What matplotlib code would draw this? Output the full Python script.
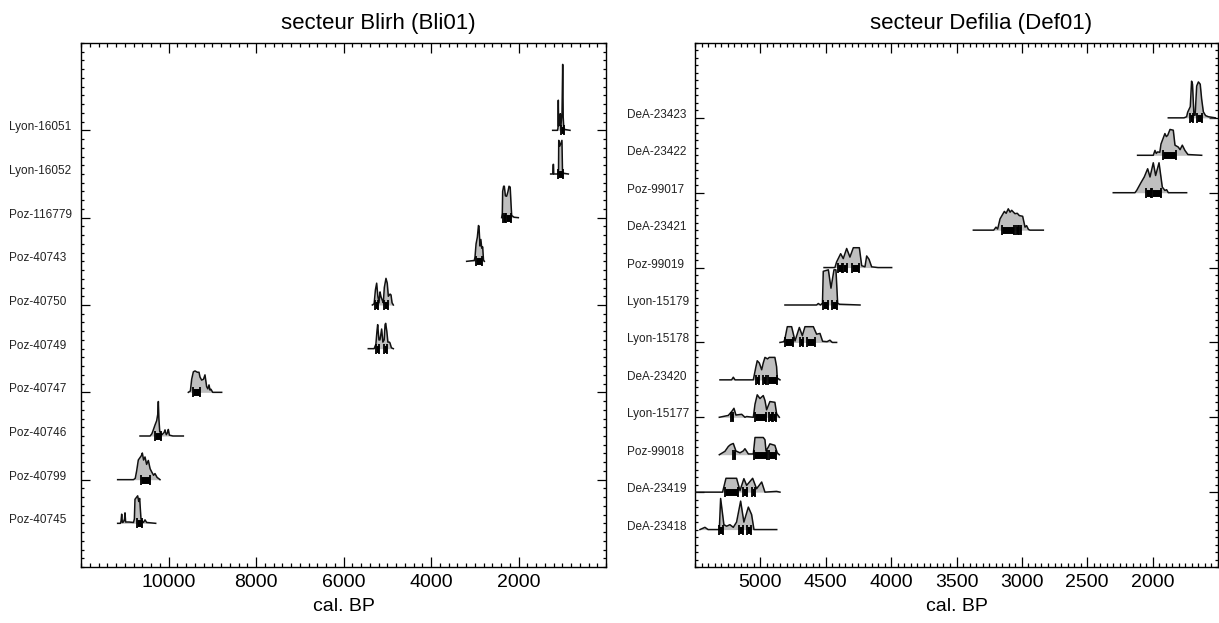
import matplotlib
matplotlib.use("Agg")
import matplotlib.pyplot as plt
import matplotlib.transforms as mtransforms
from matplotlib.ticker import MultipleLocator, FixedLocator, NullFormatter

plt.rcParams['font.family'] = ['Liberation Sans', 'DejaVu Sans']

# --- secteur Blirh (Bli01): samples listed top to bottom ---
bli_labels = ['Lyon-16051', 'Lyon-16052', 'Poz-116779', 'Poz-40743', 'Poz-40750',
              'Poz-40749', 'Poz-40747', 'Poz-40746', 'Poz-40799', 'Poz-40745']
bli_years = [
    [1219, 1110, 1098, 1090, 1082, 1060, 1045, 1030, 1005, 990, 978, 965, 940, 823],
    [1265, 1215, 1207, 1200, 1195, 1095, 1085, 1080, 1055, 1007, 995, 985, 861],
    [2385, 2370, 2362, 2340, 2324, 2300, 2271, 2240, 2217, 2190, 2170, 2156, 2100, 2004],
    [3185, 3010, 2994, 2970, 2941, 2915, 2903, 2880, 2860, 2840, 2819, 2800, 2781],
    [5341, 5300, 5270, 5242, 5215, 5189, 5165, 5143, 5110, 5090, 5067, 5029, 5000, 4975,
     4935, 4914, 4890, 4861],
    [5433, 5300, 5260, 5235, 5219, 5190, 5166, 5128, 5100, 5070, 5050, 5036, 5010, 4985,
     4950, 4937, 4905, 4861],
    [9547, 9500, 9470, 9432, 9394, 9340, 9303, 9280, 9242, 9200, 9166, 9128, 9100, 9074,
     9050, 9029, 8990, 8785],
    [10651, 10420, 10380, 10347, 10309, 10270, 10245, 10232, 10220, 10200, 10150, 10100,
     10080, 10050, 10020, 10004, 9980, 9900, 9661],
    [11162, 10800, 10760, 10728, 10690, 10620, 10598, 10570, 10537, 10500, 10461, 10420,
     10385, 10340, 10309, 10260, 10217, 10194],
    [11162, 11100, 11085, 11070, 11055, 11030, 11005, 10994, 10980, 10900, 10800, 10780,
     10766, 10705, 10680, 10659, 10629, 10600, 10570, 10537, 10500, 10293],
]
bli_dens = [
    [0, 0, 0.05, 0.69, 0.1, 0.15, 0.38, 0.1, 0.4, 1.51, 0.3, 0.05, 0.02, 0],
    [0, 0, 0.22, 0.22, 0, 0, 0.1, 0.77, 0.64, 0.77, 0.1, 0.02, 0],
    [0, 0.1, 0.6, 0.72, 0.72, 0.5, 0.49, 0.6, 0.72, 0.7, 0.3, 0.05, 0.01, 0],
    [0, 0.02, 0.1, 0.4, 0.55, 0.82, 0.8, 0.35, 0.5, 0.3, 0.33, 0.03, 0],
    [0, 0.03, 0.35, 0.5, 0.2, 0.05, 0.3, 0.19, 0.1, 0.05, 0.4, 0.61, 0.5, 0.2, 0.25, 0.23,
     0.05, 0],
    [0, 0, 0.1, 0.4, 0.55, 0.2, 0.2, 0.45, 0.15, 0.2, 0.55, 0.58, 0.4, 0.15, 0.15, 0.13,
     0.02, 0],
    [0, 0.03, 0.3, 0.47, 0.49, 0.46, 0.46, 0.35, 0.28, 0.3, 0.4, 0.13, 0.08, 0.17, 0.05,
     0.07, 0, 0],
    [0, 0, 0.05, 0.14, 0.25, 0.35, 0.5, 0.79, 0.4, 0.1, 0.03, 0.08, 0.14, 0.03, 0.08, 0.15,
     0.02, 0, 0],
    [0, 0, 0.03, 0.2, 0.45, 0.55, 0.61, 0.45, 0.52, 0.35, 0.44, 0.25, 0.18, 0.1, 0.14, 0.05,
     0.02, 0],
    [0, 0, 0.05, 0.21, 0.02, 0.03, 0.1, 0.24, 0.03, 0.03, 0.02, 0.1, 0.55, 0.63, 0.5, 0.57,
     0.1, 0.05, 0.02, 0.08, 0.02, 0],
]
bli_ranges = [
    [(1040, 970)],
    [(1090, 975)],
    [(2362, 2300), (2280, 2170)],
    [(2979, 2827)],
    [(5280, 5204), (5067, 4991)],
    [(5250, 5190), (5070, 5000)],
    [(9432, 9280)],
    [(10309, 10171)],
    [(10629, 10423)],
    [(10728, 10598)],
]

# --- secteur Defilia (Def01): samples listed top to bottom ---
def_labels = ['DeA-23423', 'DeA-23422', 'Poz-99017', 'DeA-23421', 'Poz-99019', 'Lyon-15179',
              'Lyon-15178', 'DeA-23420', 'Lyon-15177', 'Poz-99018', 'DeA-23419', 'DeA-23418']
def_years = [
    [1880, 1760, 1740, 1732, 1712, 1702, 1695, 1684, 1675, 1663, 1650, 1636, 1625, 1612,
     1595, 1574, 1520],
    [2115, 1995, 1982, 1972, 1962, 1945, 1936, 1906, 1895, 1885, 1867, 1842, 1829, 1804,
     1790, 1773, 1753, 1730, 1625],
    [2301, 2135, 2122, 2089, 2064, 2038, 2020, 1995, 1977, 1951, 1926, 1906, 1893, 1880, 1740],
    [3371, 3215, 3198, 3185, 3167, 3134, 3120, 3104, 3090, 3078, 3053, 3035, 3020, 2994,
     2976, 2964, 2950, 2938, 2836],
    [4513, 4430, 4417, 4386, 4366, 4340, 4315, 4289, 4243, 4225, 4200, 4187, 4169, 4149,
     4100, 3996],
    [4812, 4570, 4557, 4540, 4525, 4519, 4480, 4460, 4437, 4422, 4409, 4395, 4238],
    [4850, 4820, 4812, 4794, 4761, 4735, 4702, 4679, 4659, 4595, 4570, 4544, 4524, 4490,
     4468, 4450, 4417],
    [5309, 5220, 5207, 5194, 5054, 5034, 5024, 5008, 4990, 4978, 4965, 4945, 4932, 4889,
     4876, 4871, 4850],
    [5314, 5245, 5238, 5220, 5202, 5187, 5143, 5118, 5105, 5054, 5041, 5024, 5003, 4978,
     4965, 4952, 4927, 4889, 4876, 4855],
    [5314, 5271, 5245, 5228, 5207, 5187, 5156, 5131, 5118, 5092, 5054, 5041, 4978, 4965,
     4957, 4940, 4927, 4889, 4871, 4855],
    [5500, 5289, 5263, 5182, 5156, 5126, 5105, 5059, 5029, 4990, 4965, 4876, 4850],
    [5462, 5424, 5400, 5314, 5304, 5279, 5258, 5233, 5207, 5182, 5151, 5126, 5092, 5067,
     5049, 4875],
]
def_dens = [
    [0, 0, 0.03, 0.15, 0.3, 0.98, 0.9, 0.07, 0.07, 0.85, 0.96, 0.9, 0.5, 0.16, 0.06, 0.03, 0],
    [0, 0, 0.13, 0.05, 0.09, 0.08, 0.3, 0.58, 0.5, 0.53, 0.69, 0.67, 0.27, 0.22, 0.15, 0.27,
     0.13, 0.02, 0],
    [0, 0, 0.06, 0.27, 0.42, 0.64, 0.42, 0.8, 0.46, 0.8, 0.15, 0.06, 0.08, 0, 0],
    [0, 0, 0.08, 0.03, 0.3, 0.5, 0.45, 0.57, 0.48, 0.53, 0.44, 0.45, 0.39, 0.37, 0.08, 0.12,
     0.02, 0, 0],
    [0, 0, 0.15, 0.37, 0.24, 0.51, 0.28, 0.53, 0.53, 0.05, 0.02, 0.31, 0.22, 0.02, 0, 0],
    [0, 0, 0.04, 0, 0.05, 0.9, 0.94, 0.45, 0.94, 0.94, 0.05, 0.02, 0],
    [0, 0.02, 0.1, 0.42, 0.42, 0.04, 0.4, 0.18, 0.42, 0.42, 0.22, 0.24, 0.03, 0.02, 0.06, 0, 0],
    [0, 0, 0.07, 0, 0, 0.35, 0.51, 0.45, 0.27, 0.45, 0.6, 0.56, 0.6, 0.6, 0.35, 0.05, 0],
    [0, 0.05, 0.08, 0.15, 0.24, 0.06, 0.08, 0, 0.02, 0, 0.35, 0.6, 0.5, 0.58, 0.45, 0.2, 0.42,
     0.4, 0.1, 0],
    [0, 0.09, 0.22, 0.27, 0.3, 0.1, 0.05, 0.1, 0.16, 0.02, 0.02, 0.46, 0.46, 0.4, 0.1, 0.2,
     0.29, 0.25, 0.05, 0],
    [0, 0, 0.37, 0.37, 0.04, 0.36, 0.18, 0.37, 0.09, 0.27, 0, 0.02, 0],
    [0, 0.06, 0, 0, 0.83, 0.13, 0.09, 0.13, 0.06, 0.2, 0.76, 0.2, 0.6, 0.4, 0, 0],
]
def_ranges = [
    [(1714, 1689), (1663, 1620)],
    [(1923, 1824)],
    [(2053, 2013), (2003, 1936)],
    [(3155, 3060), (3045, 3032), (3020, 3008)],
    [(4404, 4378), (4366, 4335), (4302, 4243)],
    [(4519, 4480), (4455, 4417)],
    [(4812, 4753), (4697, 4671), (4646, 4582)],
    [(5034, 5008), (4978, 4957), (4940, 4876)],
    [(5228, 5207), (5041, 4957), (4932, 4914), (4901, 4883)],
    [(5212, 5194), (5049, 4952), (4932, 4881)],
    [(5271, 5169), (5131, 5105), (5067, 5041)],
    [(5314, 5289), (5161, 5136), (5100, 5075)],
]


def draw_panel(fig, rect, title, title_x, label_x, labels, years, dens, ranges,
               xlim, xminor, xticks):
    ax = fig.add_axes(rect)
    n = len(labels)
    for k in range(n):
        row = n - 1 - k
        top = [row + d for d in dens[k]]
        ax.fill_between(years[k], row, top, color='#bfbfbf', lw=0, zorder=2)
        ax.plot(years[k], top, color='#111111', lw=1.1, zorder=3)
        for a, b in ranges[k]:
            ax.plot([a, b], [row, row], color='black', lw=5,
                    solid_capstyle='butt', zorder=4)
            ax.plot([a, b], [row, row], '|', color='black', ms=7, mew=1.3, zorder=4)

    ax.set_xlim(xlim)
    ax.set_ylim(-1, n + 1)
    ax.xaxis.set_major_locator(FixedLocator(xticks))
    ax.xaxis.set_minor_locator(MultipleLocator(xminor))
    ax.set_xticklabels([str(t) for t in xticks])

    ax.yaxis.set_major_locator(FixedLocator(list(range(1, n, 2))))
    ax.yaxis.set_minor_locator(MultipleLocator(0.2))
    ax.yaxis.set_major_formatter(NullFormatter())

    ax.tick_params(which='both', direction='in', top=True, right=True, width=0.9)
    ax.tick_params(axis='x', which='major', length=7, labelsize=14, pad=5)
    ax.tick_params(axis='x', which='minor', length=2.8)
    ax.tick_params(axis='y', which='major', length=6.5)
    ax.tick_params(axis='y', which='minor', length=2.5)
    for sp in ax.spines.values():
        sp.set_linewidth(1.0)

    ax.set_xlabel('cal. BP', fontsize=14, labelpad=5)

    trans = mtransforms.blended_transform_factory(fig.transFigure, ax.transData)
    for k, lab in enumerate(labels):
        ax.text(label_x, n - 1 - k, lab, transform=trans, ha='left', va='baseline',
                fontsize=8.5, color='#222222', clip_on=False)

    fig.text(title_x, 594 / 623, title, ha='center', va='baseline', fontsize=16)
    return ax


fig = plt.figure(figsize=(12.19, 6.23), dpi=100)

draw_panel(fig, [81 / 1219, 56 / 623, 525 / 1219, 524 / 623], 'secteur Blirh (Bli01)',
           378 / 1219, 9 / 1219, bli_labels, bli_years, bli_dens, bli_ranges,
           (12000, 0), 200, [10000, 8000, 6000, 4000, 2000])

draw_panel(fig, [695 / 1219, 56 / 623, 523 / 1219, 524 / 623], 'secteur Defilia (Def01)',
           981 / 1219, 627 / 1219, def_labels, def_years, def_dens, def_ranges,
           (5500, 1500), 50, [5000, 4500, 4000, 3500, 3000, 2500, 2000])

fig.savefig('out.png', dpi=100)
